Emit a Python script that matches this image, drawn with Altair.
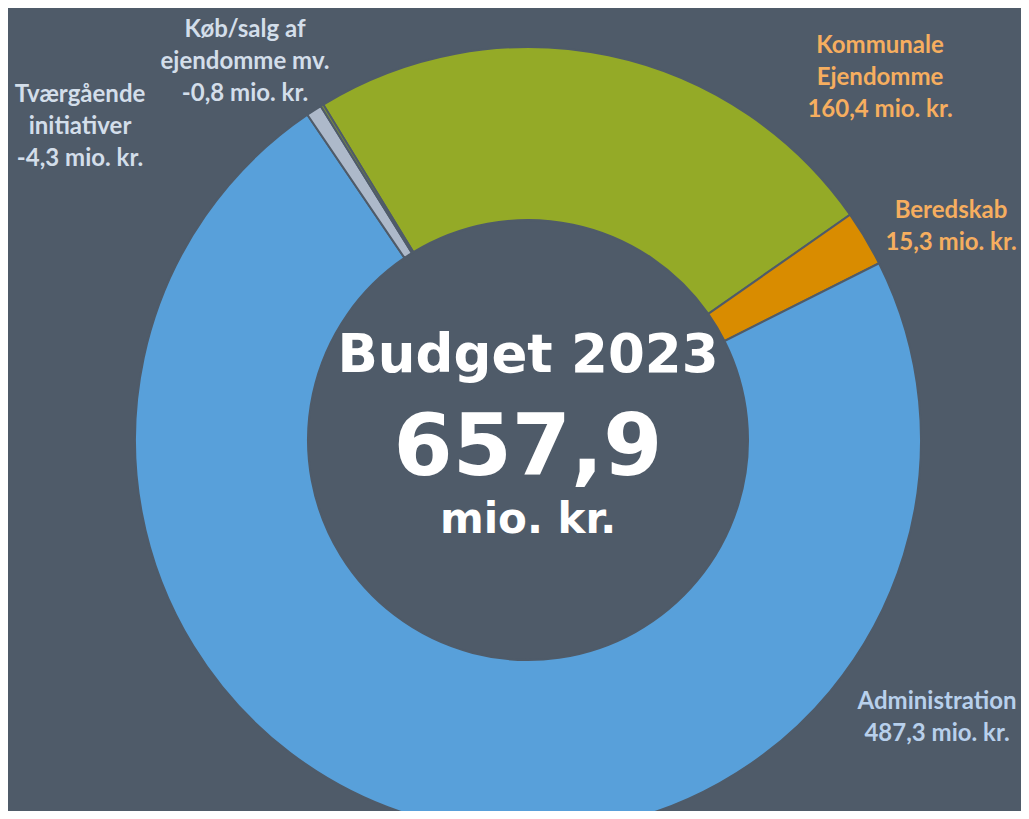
import math
import altair as alt
import pandas as pd

# ---- data ----
categories = ["Kommunale Ejendomme", "Beredskab", "Administration",
              "Tværgående initiativer", "Køb/salg af ejendomme mv."]
values = [160.4, 15.3, 487.3, -4.3, -0.8]
label_names = ["Kommunale\nEjendomme", "Beredskab", "Administration",
               "Tværgående\ninitiativer", "Køb/salg af\nejendomme mv."]
center_title = "Budget 2023"
unit = "mio. kr."

# ---- styles / layout ----
BG = "#4F5B69"
slice_colors = ["#94AA27", "#D98C00", "#58A0DA", "#ADB9CA", "#7E9236"]
label_colors = ["#F6AE5F", "#F6AE5F", "#B8D0EC", "#D3DEEA", "#D3DEEA"]
label_xy = [(872, 38), (943, 203), (929, 694), (72, 87), (237, 22)]
CX, CY = 520, 432
R_OUT, R_IN = 393, 220
START = math.radians(-31.4)


def fmt(v):
    return f"{v:.1f}".replace(".", ",")


df = pd.DataFrame({
    "idx": list(range(len(categories))),
    "cat": categories,
    "val": values,
    "absval": [abs(v) for v in values],
})

lab = pd.DataFrame({
    "cat": categories,
    "label": [f"{n}\n{fmt(v)} {unit}" for n, v in zip(label_names, values)],
    "lx": [p[0] for p in label_xy],
    "ly": [p[1] for p in label_xy],
    "lc": label_colors,
})

arcs = alt.Chart(df).mark_arc(
    innerRadius=R_IN, outerRadius=R_OUT, stroke=BG, strokeWidth=2
).encode(
    theta=alt.Theta("absval:Q", stack=True,
                    scale=alt.Scale(range=[START, START + 2 * math.pi])),
    order=alt.Order("idx:Q"),
    color=alt.Color("cat:N", scale=alt.Scale(domain=categories, range=slice_colors), legend=None),
    x=alt.value(CX),
    y=alt.value(CY),
)

labels = alt.Chart(lab).mark_text(
    font="Lato", fontWeight="bold", fontSize=24, lineBreak="\n", lineHeight=32,
    align="center", baseline="middle"
).encode(
    x=alt.X("lx:Q", scale=None),
    y=alt.Y("ly:Q", scale=None),
    text="label:N",
    color=alt.Color("lc:N", scale=None),
)

total = round(sum(values), 1)
center = pd.DataFrame({
    "t": [center_title, fmt(total), unit],
})

def center_text(row, size, y):
    return alt.Chart(center.iloc[[row]]).mark_text(
        font="DejaVu Sans", fontWeight="bold", fontSize=size, color="white",
        align="center", baseline="alphabetic"
    ).encode(x=alt.value(CX), y=alt.value(y), text="t:N")

chart = alt.layer(
    arcs, labels,
    center_text(0, 53, 364),
    center_text(1, 85, 467),
    center_text(2, 42, 525),
).properties(
    width=1013, height=803, background=BG, padding=0,
    autosize=alt.AutoSizeParams(type="none"),
).configure_view(stroke=None)

chart.save("out.html", embed_options={"renderer": "svg", "actions": False})
